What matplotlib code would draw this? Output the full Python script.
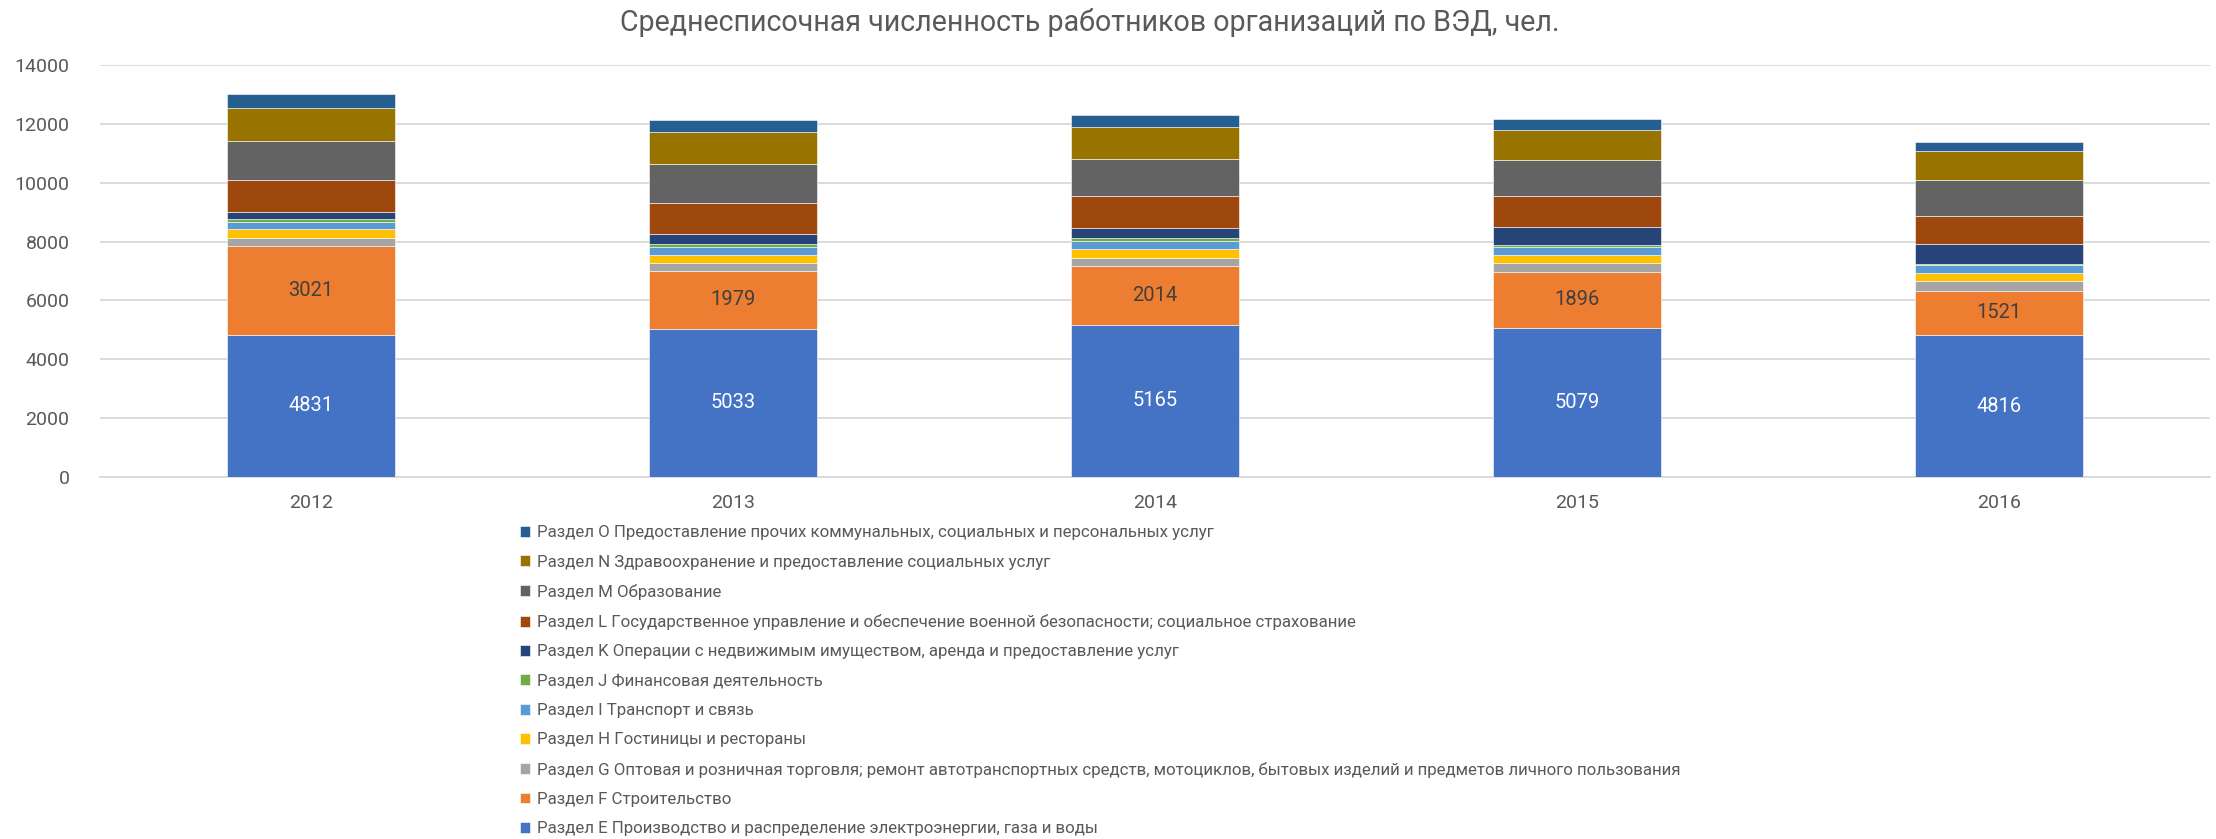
import matplotlib.pyplot as plt
import numpy as np

plt.rcParams['font.family'] = ['Roboto', 'DejaVu Sans']

# Годы и значения по разделам ВЭД (чел.)
years = ['2012', '2013', '2014', '2015', '2016']
sec_E = [4831, 5033, 5165, 5079, 4816]
sec_F = [3021, 1979, 2014, 1896, 1521]
sec_G = [274, 265, 268, 281, 329]
sec_H = [295, 271, 295, 292, 271]
sec_I = [248, 262, 272, 252, 272]
sec_J = [92, 102, 101, 68, 34]
sec_K = [247, 349, 350, 631, 679]
sec_L = [1101, 1053, 1087, 1053, 951]
sec_M = [1310, 1314, 1270, 1236, 1222]
sec_N = [1121, 1111, 1086, 1018, 985]
sec_O = [465, 383, 384, 360, 305]

names = [
    'Раздел E Производство и распределение электроэнергии, газа и воды',
    'Раздел F Строительство',
    'Раздел G Оптовая и розничная торговля; ремонт автотранспортных средств, мотоциклов, бытовых изделий и предметов личного пользования',
    'Раздел H Гостиницы и рестораны',
    'Раздел I Транспорт и связь',
    'Раздел J Финансовая деятельность',
    'Раздел K Операции с недвижимым имуществом, аренда и предоставление услуг',
    'Раздел L Государственное управление и обеспечение военной безопасности; социальное страхование',
    'Раздел M Образование',
    'Раздел N Здравоохранение и предоставление социальных услуг',
    'Раздел O Предоставление прочих коммунальных, социальных и персональных услуг',
]
series = [sec_E, sec_F, sec_G, sec_H, sec_I, sec_J, sec_K, sec_L, sec_M, sec_N, sec_O]
colors = ['#4472C4', '#ED7D31', '#A5A5A5', '#FFC000', '#5B9BD5', '#70AD47',
          '#264478', '#9E480E', '#636363', '#997300', '#255E91']

fig = plt.figure(figsize=(22.16, 8.39), dpi=100)
ax = fig.add_axes([0.0451, 0.4315, 0.9522, 0.491])

x = np.arange(len(years))
bottom = np.zeros(len(years))
bars = []
for vals, name, c in zip(series, names, colors):
    b = ax.bar(x, vals, 0.4, bottom=bottom, color=c, label=name,
               edgecolor='white', linewidth=0.4, zorder=3)
    bars.append(b)
    bottom += np.array(vals)

# подписи данных для разделов E и F
ax.bar_label(bars[0], labels=[str(v) for v in sec_E], label_type='center',
             color='white', fontsize=14.5)
ax.bar_label(bars[1], labels=[str(v) for v in sec_F], label_type='center',
             color='#404040', fontsize=14.5)

ax.set_xlim(-0.5, len(years) - 0.5)
ax.set_ylim(0, 14000)
ax.set_yticks(np.arange(0, 14001, 2000))
ax.set_xticks(x)
ax.set_xticklabels(years)
ax.tick_params(axis='both', length=0, labelsize=14, colors='#595959')
ax.tick_params(axis='y', pad=22)
ax.tick_params(axis='x', pad=12)
ax.grid(axis='y', color='#D9D9D9', linewidth=1.3, zorder=0)
for s in ['top', 'right', 'left']:
    ax.spines[s].set_visible(False)
ax.spines['bottom'].set_color('#D9D9D9')
ax.spines['bottom'].set_linewidth(1.3)

fig.text(0.492, 0.973, 'Среднесписочная численность работников организаций по ВЭД, чел.',
         ha='center', va='center', fontsize=20.6, color='#595959')

h, l = ax.get_legend_handles_labels()
fig.legend(h[::-1], l[::-1], loc='upper left', bbox_to_anchor=(0.2345, 0.374),
           frameon=False, fontsize=12.2, labelcolor='#595959', handlelength=0.6,
           handleheight=0.6, handletextpad=0.4, labelspacing=0.845,
           borderaxespad=0, borderpad=0)

plt.savefig('out.png', dpi=100)
